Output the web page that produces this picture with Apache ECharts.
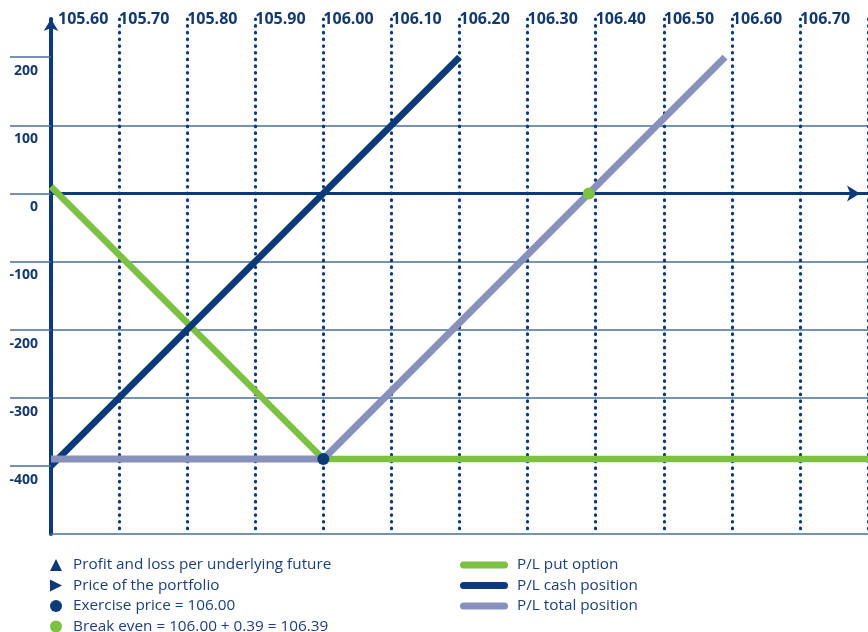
<!DOCTYPE html>
<html>
<head>
<meta charset="utf-8">
<script src="https://cdn.jsdelivr.net/npm/echarts@6/dist/echarts.min.js"></script>
<style>
html,body{margin:0;padding:0;background:#fff;}
#chart{width:868px;height:632px;}
</style>
</head>
<body>
<div id="chart"></div>
<script>
// ---- data ----
var xTicks = [105.60, 105.70, 105.80, 105.90, 106.00, 106.10, 106.20, 106.30, 106.40, 106.50, 106.60, 106.70, 106.80];
var yTicks = [200, 100, 0, -100, -200, -300, -400];
var putOption = [[105.60, 10], [106.00, -390], [106.80, -390]];
var cashPosition = [[105.60, -400], [106.20, 200]];
var totalPosition = [[105.60, -390], [106.00, -390], [106.59, 200]];
var exercisePoint = [[106.00, -390]];
var breakEvenPoint = [[106.39, 0]];
var names = {
  put: 'P/L put option',
  cash: 'P/L cash position',
  total: 'P/L total position',
  pl: 'Profit and loss per underlying future',
  price: 'Price of the portfolio',
  exercise: 'Exercise price = 106.00',
  breakEven: 'Break even = 106.00 + 0.39 = 106.39'
};

var NAVY = '#0c3a78';
var GREEN = '#7cc142';
var PURPLE = '#8890bc';
var GRID = '#4b6e9e';
var TEXT = '#1c3f79';
var FONT = '"Open Sans", "Noto Sans", sans-serif';

var chart = echarts.init(document.getElementById('chart'), null, {renderer: 'canvas'});

var pill = 'path://M3.5,0H44.5A3.5,3.5 0 0 1 44.5,7H3.5A3.5,3.5 0 0 1 3.5,0Z';

var option = {
  animation: false,
  backgroundColor: '#fff',
  grid: {left: 51, right: 0, top: 19, bottom: 98, containLabel: false, outerBoundsMode: 'none'},
  xAxis: [
    {
      type: 'value', position: 'top', min: 105.6, max: 106.8, interval: 0.1,
      axisLine: {show: false, onZero: false}, axisTick: {show: false},
      axisLabel: {
        show: true, margin: 0, align: 'left', verticalAlign: 'middle',
        color: '#12386e', fontFamily: FONT, fontWeight: 'bold', fontSize: 16,
        formatter: function (v) {
          var s = v.toFixed(2);
          return Math.abs(v - xTicks[0]) < 1e-6 ? '{f|' + s + '}' : s;
        },
        rich: {f: {padding: [0, 0, 0, 7], color: '#12386e', fontFamily: FONT, fontWeight: 'bold', fontSize: 16}}
      },
      splitLine: {show: true, lineStyle: {color: NAVY, width: 3.2, type: [0.5, 6.2], cap: 'round'}}
    },
    {
      type: 'value', position: 'bottom', min: 105.6, max: 106.8, interval: 0.1,
      axisLine: {show: true, onZero: false, lineStyle: {color: GRID, width: 1.5}},
      axisTick: {show: false}, axisLabel: {show: false}, splitLine: {show: false}
    },
    {
      type: 'value', position: 'bottom', min: 105.6, max: 106.8, interval: 0.1,
      axisLine: {show: true, onZero: true, symbol: ['none', 'arrow'], symbolSize: [12, 13], symbolOffset: [0, -8],
        lineStyle: {color: NAVY, width: 3}},
      axisTick: {show: false}, axisLabel: {show: false}, splitLine: {show: false}
    }
  ],
  yAxis: {
    type: 'value', min: -500, max: 256, interval: 100,
    axisLine: {show: true, onZero: false, symbol: ['none', 'arrow'], symbolSize: [11, 12],
      lineStyle: {color: NAVY, width: 4}},
    axisTick: {show: true, length: 41, customValues: yTicks, lineStyle: {color: GRID, width: 1.5}},
    axisLabel: {
      show: true, customValues: yTicks, margin: 13, verticalAlign: 'top', padding: [7, 0, 0, 0],
      color: '#12386e', fontFamily: FONT, fontWeight: 'bold', fontSize: 14
    },
    splitLine: {show: true, showMinLine: false, showMaxLine: false, lineStyle: {color: GRID, width: 1.5}}
  },
  legend: [
    {
      orient: 'vertical', left: 50, top: 555, height: 100, padding: 0, itemGap: 0.5,
      itemWidth: 12, itemHeight: 12, selectedMode: false,
      textStyle: {color: TEXT, fontFamily: FONT, fontSize: 15.3, lineHeight: 20, padding: [0, 0, 0, 6]},
      data: [
        {name: names.pl, icon: 'triangle'},
        {name: names.price, icon: 'path://M0,0L11,5.5L0,11Z'},
        {name: names.exercise, icon: 'circle'},
        {name: names.breakEven, icon: 'circle'}
      ]
    },
    {
      orient: 'vertical', left: 460, top: 555, height: 100, padding: 0, itemGap: 0.5,
      itemWidth: 48, itemHeight: 7, selectedMode: false,
      textStyle: {color: TEXT, fontFamily: FONT, fontSize: 15.3, lineHeight: 20, padding: [0, 0, 0, 4]},
      data: [
        {name: names.put, icon: pill},
        {name: names.cash, icon: pill},
        {name: names.total, icon: pill}
      ]
    }
  ],
  series: [
    {name: names.put, type: 'line', xAxisIndex: 0, data: putOption, color: GREEN, showSymbol: false, symbol: 'none',
      lineStyle: {color: GREEN, width: 6.5, cap: 'butt'}, z: 3},
    {name: names.cash, type: 'line', xAxisIndex: 0, data: cashPosition, color: NAVY, showSymbol: false, symbol: 'none',
      lineStyle: {color: NAVY, width: 6.5}, z: 4},
    {name: names.total, type: 'line', xAxisIndex: 0, data: totalPosition, color: PURPLE, showSymbol: false, symbol: 'none',
      lineStyle: {color: PURPLE, width: 7}, z: 5},
    {name: names.exercise, type: 'scatter', xAxisIndex: 0, data: exercisePoint, color: NAVY, symbolSize: 12, z: 6,
      itemStyle: {color: NAVY, opacity: 1}},
    {name: names.breakEven, type: 'scatter', xAxisIndex: 0, data: breakEvenPoint, color: GREEN, symbolSize: 12, z: 6,
      itemStyle: {color: GREEN, opacity: 1}},
    {name: names.pl, type: 'line', xAxisIndex: 0, data: [], color: NAVY},
    {name: names.price, type: 'line', xAxisIndex: 0, data: [], color: NAVY}
  ]
};
chart.setOption(option);
</script>
</body>
</html>
